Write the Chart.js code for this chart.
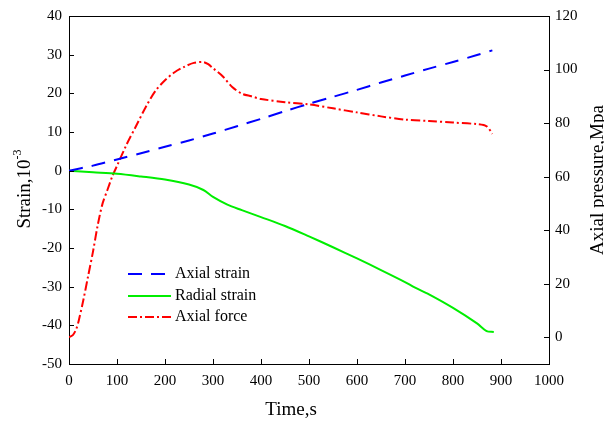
<!DOCTYPE html>
<html>
<head>
<meta charset="utf-8">
<script src="https://cdn.jsdelivr.net/npm/chart.js@4"></script>
<style>html,body{margin:0;padding:0;background:#fff}</style>
</head>
<body>
<canvas id="c" width="604" height="426"></canvas>
<script>
const FONT = '"Liberation Serif", "Times New Roman", serif';

// ejes
const xTicks = [0, 100, 200, 300, 400, 500, 600, 700, 800, 900, 1000];
const leftTicks = [-50, -40, -30, -20, -10, 0, 10, 20, 30, 40];
const rightTicks = [0, 20, 40, 60, 80, 100, 120];

// Axial strain (10^-3)
const axialTime = [0, 50, 100, 150, 200, 250, 300, 350, 400, 450, 500, 550, 600, 650, 700, 750, 800, 850, 882];
const axialStrain = [0, 1.3, 2.9, 4.5, 6.2, 7.8, 9.6, 11.5, 13.4, 15.4, 17.3, 19.1, 20.9, 22.8, 24.6, 26.4, 28.1, 29.9, 31.1];

// Radial strain (10^-3)
const radialTime = [0, 50, 100, 150, 200, 250, 280, 300, 330, 360, 400, 450, 500, 550, 600, 650, 700, 720, 750, 800, 850, 870, 885];
const radialStrain = [0, -0.4, -0.8, -1.5, -2.3, -3.6, -5.0, -6.8, -8.8, -10.2, -12.0, -14.3, -17.0, -19.8, -22.7, -25.7, -28.8, -30.2, -32.0, -35.5, -39.5, -41.5, -41.7];

// Axial force (MPa, eje derecho)
const forceTime = [0, 8, 15, 20, 30, 40, 50, 60, 70, 80, 90, 100, 120, 140, 160, 180, 200, 220, 240, 260, 280, 290, 300, 320, 340, 360, 380, 400, 450, 500, 550, 600, 650, 700, 750, 800, 850, 870, 882];
const axialPressure = [0, 0.8, 3, 6, 14, 23, 32, 42, 50, 55, 60, 64, 72, 79, 86, 92, 96, 99, 101, 102.5, 102.8, 102, 100.5, 97.5, 93.5, 91, 90, 89, 87.8, 87, 85.5, 84, 82.5, 81.3, 80.8, 80.2, 79.6, 78.8, 76];

const seriesNames = ['Axial strain', 'Radial strain', 'Axial force'];

function pts(xs, ys){ return xs.map((x, i) => ({x: x, y: ys[i]})); }

// ticks hacia dentro + marco superior
const frameTicks = {
  id: 'frameTicks',
  afterDraw(chart){
    const ctx = chart.ctx, a = chart.chartArea;
    const sx = chart.scales.x, sl = chart.scales.yL, sr = chart.scales.yR;
    const L = 5;
    ctx.save();
    ctx.strokeStyle = '#000';
    ctx.lineWidth = 1;
    ctx.beginPath();
    ctx.moveTo(a.left, a.top + 0.5); ctx.lineTo(a.right, a.top + 0.5);
    xTicks.forEach(v => { const p = Math.round(sx.getPixelForValue(v)) + 0.5; ctx.moveTo(p, a.bottom); ctx.lineTo(p, a.bottom - L); });
    leftTicks.forEach(v => { const p = Math.round(sl.getPixelForValue(v)) + 0.5; ctx.moveTo(a.left, p); ctx.lineTo(a.left + L, p); });
    rightTicks.forEach(v => { const p = Math.round(sr.getPixelForValue(v)) + 0.5; ctx.moveTo(a.right, p); ctx.lineTo(a.right - L, p); });
    ctx.stroke();

    // titulos
    ctx.fillStyle = '#000';
    ctx.textBaseline = 'middle';
    ctx.font = '19px ' + FONT;
    ctx.textAlign = 'center';
    ctx.fillText('Time,s', 291, 410);

    // Strain,10^-3
    ctx.save();
    ctx.translate(25, 189);
    ctx.rotate(-Math.PI / 2);
    const main = 'Strain,10', sup = '-3';
    ctx.font = '19px ' + FONT;
    const w1 = ctx.measureText(main).width;
    ctx.font = '12px ' + FONT;
    const w2 = ctx.measureText(sup).width;
    ctx.textAlign = 'left';
    ctx.font = '19px ' + FONT;
    ctx.fillText(main, -(w1 + w2) / 2, 0);
    ctx.font = '12px ' + FONT;
    ctx.fillText(sup, -(w1 + w2) / 2 + w1, -7);
    ctx.restore();

    ctx.save();
    ctx.translate(598, 180);
    ctx.rotate(-Math.PI / 2);
    ctx.font = '19px ' + FONT;
    ctx.textAlign = 'center';
    ctx.fillText('Axial pressure,Mpa', 0, 0);
    ctx.restore();

    // leyenda
    const rows = [274, 296, 317];
    chart.data.datasets.forEach((ds, i) => {
      ctx.save();
      ctx.strokeStyle = ds.borderColor;
      ctx.lineWidth = ds.borderWidth;
      ctx.setLineDash(ds.borderDash || []);
      ctx.beginPath();
      ctx.moveTo(128, rows[i]); ctx.lineTo(171, rows[i]);
      ctx.stroke();
      ctx.restore();
      ctx.font = '16px ' + FONT;
      ctx.textAlign = 'left';
      ctx.fillStyle = '#000';
      ctx.fillText(ds.label, 175, rows[i]);
    });
    ctx.restore();
  }
};

const tickFont = { family: FONT, size: 15 };
const plain = v => String(v);

new Chart(document.getElementById('c'), {
  type: 'line',
  data: {
    datasets: [
      { label: seriesNames[0], data: pts(axialTime, axialStrain), yAxisID: 'yL',
        borderColor: '#0000ff', borderWidth: 2, borderDash: [14, 9], pointRadius: 0, tension: 0.3, fill: false },
      { label: seriesNames[1], data: pts(radialTime, radialStrain), yAxisID: 'yL',
        borderColor: '#00ee00', borderWidth: 2, pointRadius: 0, tension: 0.3, fill: false },
      { label: seriesNames[2], data: pts(forceTime, axialPressure), yAxisID: 'yR',
        borderColor: '#ff0000', borderWidth: 2, borderDash: [9, 3, 2, 3], pointRadius: 0, tension: 0.3, fill: false }
    ]
  },
  options: {
    responsive: false,
    animation: false,
    layout: { padding: { top: 14, left: 0, right: 0, bottom: 0 } },
    plugins: { legend: { display: false }, tooltip: { enabled: false } },
    scales: {
      x: {
        type: 'linear', min: 0, max: 1000,
        afterFit: s => { s.height = 62; },
        afterBuildTicks: s => { s.ticks = xTicks.map(v => ({value: v})); },
        grid: { display: false, drawTicks: false },
        border: { color: '#000', width: 1 },
        ticks: { color: '#000', font: tickFont, padding: 8, maxRotation: 0, callback: plain }
      },
      yL: {
        type: 'linear', position: 'left', min: -50, max: 40,
        afterFit: s => { s.width = 69; },
        afterBuildTicks: s => { s.ticks = leftTicks.map(v => ({value: v})); },
        grid: { display: false, drawTicks: false },
        border: { color: '#000', width: 1 },
        ticks: { color: '#000', font: tickFont, padding: 7, callback: plain }
      },
      yR: {
        type: 'linear', position: 'right', min: -10, max: 120,
        afterFit: s => { s.width = 55; },
        afterBuildTicks: s => { s.ticks = rightTicks.map(v => ({value: v})); },
        grid: { display: false, drawTicks: false },
        border: { color: '#000', width: 1 },
        ticks: { color: '#000', font: tickFont, padding: 6, callback: plain }
      }
    }
  },
  plugins: [frameTicks]
});
</script>
</body>
</html>
